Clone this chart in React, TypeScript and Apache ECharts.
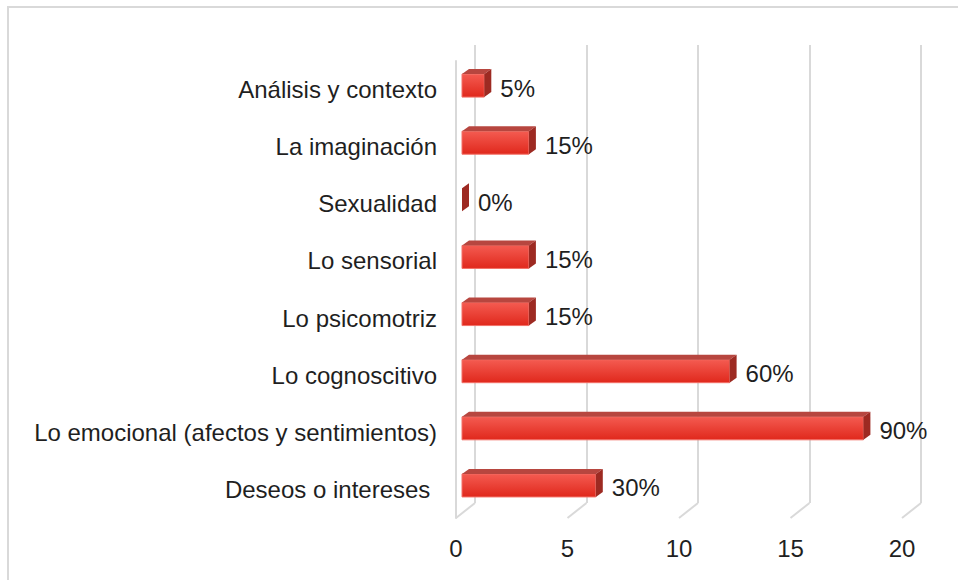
import React, { useEffect, useRef } from "react";
import * as echarts from "echarts";

const categories = [
  "Análisis y contexto",
  "La imaginación",
  "Sexualidad",
  "Lo sensorial",
  "Lo psicomotriz",
  "Lo cognoscitivo",
  "Lo emocional (afectos y sentimientos)",
  "Deseos o intereses ",
];
const values = [1, 3, 0, 3, 3, 12, 18, 6];
const percentLabels = ["5%", "15%", "0%", "15%", "15%", "60%", "90%", "30%"];
const xTicks = [0, 5, 10, 15, 20];

const FONT = "'Liberation Sans', Arial, sans-serif";
const TEXT = "#1f1f1f";
const GRID = "#d9d9d9";

export default function App() {
  const ref = useRef<HTMLDivElement>(null);
  useEffect(() => {
    if (!ref.current) return;
    const chart = echarts.init(ref.current, null, { renderer: "svg" });
    const barData = values.map((v, i) => [v, i, percentLabels[i]]);
    const floorData = xTicks.map((t) => [t, categories.length - 1]);
    const frontFill = new echarts.graphic.LinearGradient(0, 0, 0, 1, [
      { offset: 0, color: "#f45b51" },
      { offset: 1, color: "#e0281c" },
    ]);
    chart.setOption({
      animation: false,
      backgroundColor: "#ffffff",
      graphic: [
        {
          type: "rect",
          shape: { x: 8, y: 7, width: 1200, height: 1200 },
          style: { fill: "none", stroke: GRID, lineWidth: 2 },
          silent: true,
          z: -10,
        },
      ],
      grid: [
        { left: 456, right: 56, top: 61, bottom: 62 },
        { left: 475, right: 37, top: 45, bottom: 77 },
      ],
      xAxis: [
        {
          type: "value",
          gridIndex: 0,
          min: 0,
          max: 20,
          interval: 5,
          axisLine: { show: false },
          axisTick: { show: false },
          splitLine: { show: false },
          axisLabel: {
            margin: 18,
            fontSize: 24,
            fontFamily: FONT,
            color: TEXT,
          },
        },
        {
          type: "value",
          gridIndex: 1,
          min: 0,
          max: 20,
          interval: 5,
          axisLine: { show: false },
          axisTick: { show: false },
          axisLabel: { show: false },
          splitLine: { show: true, lineStyle: { color: GRID, width: 2 } },
        },
      ],
      yAxis: [
        {
          type: "category",
          gridIndex: 0,
          data: categories,
          inverse: true,
          axisLine: { show: true, lineStyle: { color: GRID, width: 2 } },
          axisTick: { show: false },
          splitLine: { show: false },
          axisLabel: {
            margin: 19,
            fontSize: 24,
            fontFamily: FONT,
            color: TEXT,
          },
        },
        {
          type: "category",
          gridIndex: 1,
          data: categories,
          inverse: true,
          show: false,
        },
      ],
      series: [
        {
          type: "custom",
          xAxisIndex: 0,
          yAxisIndex: 0,
          data: floorData,
          encode: { x: 0, y: 1 },
          silent: true,
          z: 1,
          renderItem: (params: any, api: any) => {
            const t = api.value(0);
            const p = api.coord([t, 0]);
            const cs = params.coordSys;
            const yb = cs.y + cs.height;
            return {
              type: "line",
              shape: { x1: p[0], y1: yb, x2: p[0] + 19, y2: yb - 15 },
              style: { stroke: GRID, lineWidth: 2 },
            };
          },
        },
        {
          type: "custom",
          xAxisIndex: 0,
          yAxisIndex: 0,
          data: barData,
          encode: { x: 0, y: 1 },
          z: 5,
          renderItem: (params: any, api: any) => {
            const v = api.value(0);
            const c = api.value(1);
            const label = percentLabels[params.dataIndex];
            const p0 = api.coord([0, c]);
            const p1 = api.coord([v, c]);
            const x0 = p0[0] + 6;
            const x1 = p1[0] + 6;
            const yc = p0[1] - 4;
            const h = 23;
            const dx = 7;
            const dy = 5;
            const yt = yc - h / 2;
            const yb = yc + h / 2;
            const children: any[] = [];
            if (v > 0) {
              children.push({
                type: "rect",
                shape: { x: x0, y: yt, width: x1 - x0, height: h },
                style: { fill: frontFill, stroke: "#f37168", lineWidth: 1 },
              });
              children.push({
                type: "polygon",
                shape: {
                  points: [
                    [x0, yt],
                    [x0 + dx, yt - dy],
                    [x1 + dx, yt - dy],
                    [x1, yt],
                  ],
                },
                style: { fill: "#b7463f" },
              });
            }
            children.push({
              type: "polygon",
              shape: {
                points: [
                  [x1, yt],
                  [x1 + dx, yt - dy],
                  [x1 + dx, yb - dy],
                  [x1, yb],
                ],
              },
              style: { fill: "#9d2a22" },
            });
            children.push({
              type: "text",
              style: {
                text: label,
                x: x1 + dx + 9,
                y: p0[1] - 1.5,
                align: "left",
                verticalAlign: "middle",
                fontSize: 24,
                fontFamily: FONT,
                fill: TEXT,
              },
            });
            return { type: "group", children };
          },
        },
      ],
    });
    return () => chart.dispose();
  }, []);
  return (
    <div
      ref={ref}
      style={{ position: "fixed", left: 0, top: 0, width: 958, height: 580 }}
    />
  );
}
